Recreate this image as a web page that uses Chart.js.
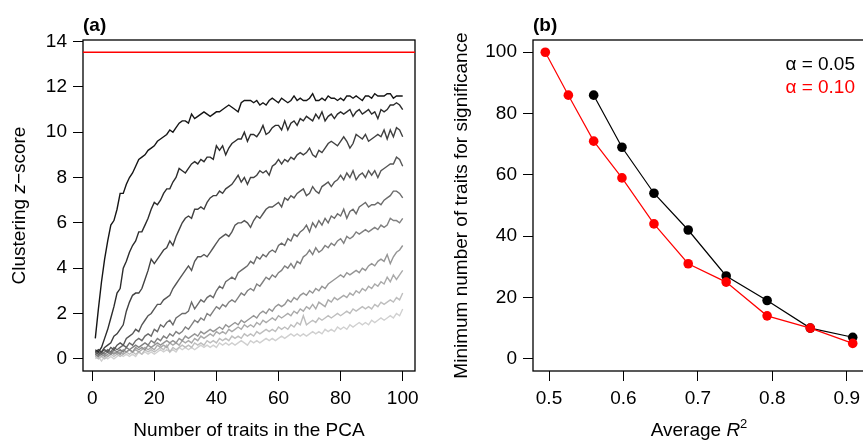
<!DOCTYPE html>
<html>
<head>
<meta charset="utf-8">
<script src="https://cdn.jsdelivr.net/npm/chart.js@4.4.1/dist/chart.umd.min.js"></script>
<style>
  body { margin: 0; background: #fff; overflow: hidden; }
  #wrapA { position: absolute; left: 0; top: 0; width: 430px; height: 445px; }
  #wrapB { position: absolute; left: 430px; top: 0; width: 440px; height: 445px; }
</style>
</head>
<body>
<div id="wrapA"><canvas id="chartA" width="430" height="445"></canvas></div>
<div id="wrapB"><canvas id="chartB" width="440" height="445"></canvas></div>
<script>
// panel (a): clustering z-score vs number of traits, one line per R^2 level
const nTraits = [1,2,3,4,5,6,7,8,9,10,11,12,13,14,15,16,17,18,19,20,21,22,23,24,25,26,27,28,29,30,31,32,33,34,35,36,37,38,39,40,41,42,43,44,45,46,47,48,49,50,51,52,53,54,55,56,57,58,59,60,61,62,63,64,65,66,67,68,69,70,71,72,73,74,75,76,77,78,79,80,81,82,83,84,85,86,87,88,89,90,91,92,93,94,95,96,97,98,99,100];

const z1 = [0.9,2.2,3.4,4.4,5.2,5.9,6.1,6.6,7.3,7.3,7.7,8.0,8.2,8.5,8.8,8.9,9.0,9.2,9.3,9.4,9.6,9.7,9.8,9.9,10.1,10.0,10.2,10.4,10.5,10.5,10.4,10.8,10.6,10.7,10.8,10.9,10.8,10.7,10.8,10.9,10.9,11.0,11.1,11.2,11.1,11.0,10.9,11.3,11.4,11.4,11.4,11.3,11.4,11.2,11.3,11.2,11.4,11.5,11.4,11.3,11.5,11.4,11.3,11.4,11.6,11.4,11.5,11.4,11.4,11.5,11.7,11.4,11.4,11.5,11.4,11.6,11.5,11.5,11.4,11.5,11.4,11.6,11.6,11.5,11.6,11.5,11.4,11.6,11.6,11.5,11.7,11.6,11.6,11.6,11.7,11.7,11.5,11.6,11.6,11.6];
const z2 = [0.4,0.3,0.5,0.9,1.3,1.8,2.3,2.9,3.1,4.0,4.3,4.7,5.0,5.2,5.6,5.6,5.9,6.2,6.6,6.9,6.8,7.0,7.3,7.5,7.5,7.8,8.0,8.4,8.3,8.2,8.4,8.6,8.7,8.6,8.8,8.7,8.9,8.9,8.8,9.4,9.2,9.4,9.0,9.3,9.5,9.6,9.7,9.7,10.0,9.6,9.9,9.9,9.8,10.0,10.3,9.9,10.0,10.2,10.3,10.3,10.1,10.5,10.1,10.4,10.5,10.3,10.6,10.5,10.7,10.6,10.5,10.8,10.6,10.9,10.5,10.7,10.8,10.6,10.8,10.9,10.8,10.9,11.0,10.7,10.9,11.0,10.8,10.9,11.0,10.8,10.9,10.6,11.0,10.9,11.0,11.2,11.2,11.3,11.2,11.0];
const z3 = [0.3,0.4,0.3,0.5,0.6,0.7,1.0,1.1,1.3,1.5,2.1,2.5,2.8,2.9,2.9,3.1,3.5,3.9,4.4,4.2,4.4,4.6,4.8,4.9,5.2,5.0,5.4,5.7,6.0,6.2,6.3,6.2,6.6,6.6,6.7,6.6,6.9,7.1,7.2,7.2,7.4,7.3,7.5,7.6,7.7,7.9,8.1,7.8,8.0,7.7,8.0,8.0,8.1,8.3,8.2,8.3,8.1,8.5,8.6,8.8,8.6,8.8,8.7,8.9,8.8,9.0,9.1,9.0,9.1,9.3,9.0,8.9,9.2,9.1,9.3,9.5,9.6,9.5,9.4,9.6,9.8,9.6,9.3,9.5,9.9,9.8,9.7,9.9,9.6,9.7,9.8,9.9,9.8,10.1,9.7,10.1,9.8,10.2,10.1,9.8];
const z4 = [0.3,0.2,0.3,0.4,0.3,0.5,0.4,0.6,0.7,0.6,0.9,1.0,1.1,1.3,1.2,1.5,1.7,1.9,2.0,2.2,2.4,2.4,2.6,2.7,2.8,3.1,3.3,3.5,3.7,3.9,4.1,3.9,4.3,4.5,4.5,4.6,4.5,4.7,4.9,5.1,5.3,5.4,5.5,5.4,5.6,5.9,6.0,6.0,6.1,6.0,5.8,6.1,6.3,6.2,6.4,6.6,6.7,6.7,6.8,6.9,6.7,7.1,7.0,7.2,7.1,7.3,7.4,7.5,7.2,7.3,7.6,7.4,7.3,7.6,7.7,7.8,7.6,7.8,7.9,8.1,7.9,8.2,8.0,8.3,7.9,8.1,8.2,8.0,8.3,8.1,8.3,8.0,8.3,8.4,8.5,8.6,8.6,8.9,8.8,8.5];
const z5 = [0.2,0.3,0.2,0.3,0.4,0.3,0.5,0.4,0.5,0.6,0.5,0.7,0.6,0.8,0.9,0.8,1.0,1.1,1.0,1.3,1.2,1.5,1.4,1.6,1.7,1.5,1.8,1.9,2.0,2.0,2.1,2.5,2.2,2.4,2.6,2.5,2.7,2.8,2.7,3.0,3.2,3.1,3.4,3.5,3.6,3.5,3.8,3.9,4.0,4.1,4.3,4.2,4.5,4.4,4.6,4.5,4.7,4.8,4.7,5.0,5.1,5.0,5.3,5.2,5.5,5.4,5.6,5.7,5.9,5.6,6.0,5.8,6.1,5.9,6.2,6.0,6.3,6.2,6.4,6.3,6.6,6.2,6.5,6.6,6.4,6.7,6.8,6.9,6.7,6.8,6.8,6.9,6.8,7.0,7.1,7.2,7.4,7.4,7.3,7.1];
const z6 = [0.2,0.1,0.3,0.2,0.3,0.2,0.4,0.3,0.4,0.3,0.5,0.4,0.5,0.6,0.5,0.6,0.7,0.6,0.8,0.7,0.9,0.8,1.0,0.9,1.1,1.0,1.2,1.1,1.2,1.4,1.3,1.5,1.7,1.6,1.8,1.7,2.0,1.9,2.1,2.3,2.2,2.4,2.3,2.5,2.6,2.5,2.7,2.9,2.8,3.0,3.1,3.0,3.3,3.2,3.4,3.6,3.5,3.7,3.6,3.8,3.9,4.1,4.0,4.2,4.0,4.3,4.2,4.5,4.6,4.8,4.6,4.9,4.7,4.8,5.0,4.9,5.1,5.0,5.2,5.3,5.1,5.4,5.3,5.4,5.6,5.5,5.6,5.7,5.6,5.7,5.8,5.7,5.9,5.8,5.9,6.2,6.1,6.1,6.0,6.2];
const z7 = [0.2,0.1,0.2,0.1,0.2,0.3,0.2,0.3,0.2,0.4,0.3,0.4,0.3,0.5,0.4,0.5,0.4,0.6,0.5,0.6,0.7,0.6,0.7,0.8,0.7,0.8,0.7,0.9,0.8,1.0,0.9,1.0,1.1,1.0,1.2,1.1,1.2,1.3,1.2,1.3,1.4,1.3,1.5,1.4,1.5,1.6,1.5,1.7,1.6,1.7,1.8,1.9,1.8,2.0,2.1,2.0,2.2,2.1,2.3,2.4,2.3,2.4,2.6,2.5,2.7,2.6,2.8,2.9,2.8,3.0,2.9,3.1,3.0,3.2,3.1,3.3,3.4,3.5,3.6,3.7,3.6,3.8,3.7,3.8,3.9,3.8,4.0,3.9,4.1,4.2,4.1,4.3,4.4,4.3,4.6,4.2,4.5,4.7,4.8,5.0];
const z8 = [0.1,0.2,0.1,0.2,0.1,0.2,0.3,0.2,0.3,0.2,0.3,0.4,0.3,0.4,0.3,0.4,0.5,0.4,0.5,0.4,0.6,0.5,0.6,0.5,0.7,0.6,0.7,0.6,0.8,0.7,0.8,0.7,0.9,0.8,1.0,0.9,1.0,1.1,1.0,1.2,1.1,1.2,1.1,1.3,1.2,1.3,1.4,1.3,1.5,1.4,1.5,1.4,1.6,1.5,1.7,1.6,1.7,1.8,1.7,1.9,1.8,1.9,2.0,1.9,2.1,2.0,2.2,2.1,2.3,2.2,2.4,2.2,2.5,2.4,2.3,2.6,2.5,2.7,2.6,2.7,2.8,2.7,2.9,2.8,3.0,2.9,3.1,3.0,3.2,3.1,3.3,3.2,3.4,3.3,3.6,3.4,3.7,3.5,3.7,3.9];
const z9 = [0.1,0.0,0.1,0.0,0.1,0.2,0.1,0.2,0.1,0.2,0.3,0.2,0.3,0.2,0.3,0.2,0.4,0.3,0.4,0.3,0.4,0.5,0.4,0.6,0.3,0.5,0.4,0.5,0.6,0.5,0.6,0.5,0.7,0.6,0.7,0.6,0.8,0.7,0.8,0.7,0.9,0.8,0.9,0.8,1.0,0.9,1.0,0.9,1.1,1.0,1.1,1.0,1.2,1.1,1.2,1.3,1.2,1.3,1.2,1.4,1.3,1.4,1.3,1.5,1.4,1.6,1.5,1.9,1.5,1.6,1.7,1.6,1.8,1.7,1.8,1.9,1.8,1.9,2.0,1.9,2.0,2.1,2.0,2.2,2.1,2.2,2.3,2.2,2.3,2.2,2.4,2.3,2.5,2.4,2.5,2.6,2.5,2.7,2.6,2.9];
const z10 = [0.0,0.1,-0.1,0.1,0.0,0.1,0.0,0.1,0.2,0.1,0.2,0.1,0.2,0.1,0.3,0.2,0.3,0.2,0.3,0.2,0.3,0.4,0.3,0.4,0.3,0.4,0.3,0.5,0.4,0.5,0.4,0.5,0.4,0.5,0.6,0.5,0.6,0.5,0.6,0.5,0.7,0.6,0.7,0.6,0.7,0.6,0.7,0.8,0.7,0.6,0.8,0.7,0.8,0.7,0.8,0.9,0.8,0.9,0.8,0.9,1.0,0.9,1.0,1.1,1.0,1.1,1.0,1.1,1.0,1.1,1.2,1.1,1.2,1.1,1.3,1.2,1.3,1.2,1.4,1.3,1.4,1.3,1.5,1.4,1.5,1.6,1.5,1.6,1.5,1.7,1.6,1.7,1.8,1.7,1.8,1.9,1.8,2.0,1.9,2.2];

const zSeries = [z1, z2, z3, z4, z5, z6, z7, z8, z9, z10];
const greys = ['#151515', '#2c2c2c', '#414141', '#565656', '#6b6b6b', '#808080', '#959595', '#aaaaaa', '#bebebe', '#d0d0d0'];
const thresholdZ = 13.53;

const xTicksA = [0, 20, 40, 60, 80, 100];
const yTicksA = [0, 2, 4, 6, 8, 10, 12, 14];

// panel (b): minimum number of traits needed vs average R^2
const r2Alpha05 = [0.560, 0.598, 0.641, 0.687, 0.738, 0.793, 0.851, 0.908];
const minTraitsAlpha05 = [86, 69, 54, 42, 27, 19, 10, 7];
const r2Alpha10 = [0.495, 0.526, 0.560, 0.598, 0.641, 0.687, 0.738, 0.793, 0.851, 0.908];
const minTraitsAlpha10 = [100, 86, 71, 59, 44, 31, 25, 14, 10, 5];

const xTicksB = [0.5, 0.6, 0.7, 0.8, 0.9];
const yTicksB = [0, 20, 40, 60, 80, 100];

const FONT = '"Liberation Sans", Arial, sans-serif';
const FS = 19;

function setTicks(values) {
  return function (scale) { scale.ticks = values.map(v => ({ value: v })); };
}

function axisStyle(ticks, extra) {
  return Object.assign({
    type: 'linear',
    afterBuildTicks: setTicks(ticks),
    border: { display: false },
    grid: { drawOnChartArea: false, drawTicks: true, tickLength: 10, color: '#000', lineWidth: 1 },
    ticks: { color: '#000', font: { family: FONT, size: FS }, padding: 6, maxRotation: 0, autoSkip: false }
  }, extra);
}

// draws mixed-style text (italic bits, superscripts) centred on a point
function drawRich(ctx, parts, cx, cy, rotate) {
  ctx.save();
  ctx.translate(cx, cy);
  if (rotate) ctx.rotate(-Math.PI / 2);
  ctx.textBaseline = 'middle';
  ctx.textAlign = 'left';
  let total = 0;
  parts.forEach(p => {
    ctx.font = (p.italic ? 'italic ' : '') + (p.sup ? 13 : FS) + 'px ' + FONT;
    p.w = ctx.measureText(p.t).width;
    total += p.w;
  });
  let x = -total / 2;
  parts.forEach(p => {
    ctx.font = (p.italic ? 'italic ' : '') + (p.sup ? 13 : FS) + 'px ' + FONT;
    ctx.fillStyle = '#000';
    ctx.fillText(p.t, x, p.sup ? -7 : 0);
    x += p.w;
  });
  ctx.restore();
}

const framePlugin = {
  id: 'frame',
  afterDraw(chart, args, opts) {
    const { ctx, chartArea: a } = chart;
    ctx.save();
    ctx.strokeStyle = '#000';
    ctx.lineWidth = 1.3;
    ctx.strokeRect(a.left, a.top, a.right - a.left, a.bottom - a.top);
    ctx.font = 'bold ' + FS + 'px ' + FONT;
    ctx.fillStyle = '#000';
    ctx.textBaseline = 'middle';
    ctx.textAlign = 'left';
    ctx.fillText(opts.panel, a.left, 26);
    ctx.restore();
    drawRich(ctx, opts.xTitle, (a.left + a.right) / 2, 431, false);
    drawRich(ctx, opts.yTitle, opts.yTitleX, (a.top + a.bottom) / 2, true);
    if (opts.after) opts.after(chart);
  }
};

const lineDatasets = zSeries.map((ys, i) => ({
  data: nTraits.map((x, j) => ({ x: x, y: ys[j] })),
  borderColor: greys[i],
  borderWidth: 1.4,
  pointRadius: 0,
  tension: 0
}));

new Chart(document.getElementById('chartA'), {
  type: 'line',
  data: { datasets: lineDatasets },
  plugins: [framePlugin],
  options: {
    responsive: false,
    animation: false,
    devicePixelRatio: 1,
    layout: { padding: { left: 0, right: 15, top: 40, bottom: 0 } },
    plugins: {
      legend: { display: false },
      tooltip: { enabled: false },
      frame: {
        panel: '(a)',
        xTitle: [{ t: 'Number of traits in the PCA' }],
        yTitle: [{ t: 'Clustering ' }, { t: 'z', italic: true }, { t: '\u2212score' }],
        yTitleX: 20,
        after(chart) {
          const { ctx, chartArea: a, scales } = chart;
          const y = scales.y.getPixelForValue(thresholdZ);
          ctx.save();
          ctx.strokeStyle = '#ff0000';
          ctx.lineWidth = 1.4;
          ctx.beginPath();
          ctx.moveTo(a.left, y);
          ctx.lineTo(a.right, y);
          ctx.stroke();
          ctx.restore();
        }
      }
    },
    scales: {
      x: axisStyle(xTicksA, { min: -2.96, max: 103.96, afterFit(s) { s.height = 74; } }),
      y: axisStyle(yTicksA, { min: -0.54, max: 14.07, afterFit(s) { s.width = 83; } })
    }
  }
});

new Chart(document.getElementById('chartB'), {
  type: 'line',
  data: {
    datasets: [
      {
        label: '\u03b1 = 0.10',
        data: r2Alpha10.map((x, i) => ({ x: x, y: minTraitsAlpha10[i] })),
        borderColor: '#ff0000', backgroundColor: '#ff0000',
        borderWidth: 1.2, pointRadius: 4.8, pointBorderWidth: 0, tension: 0
      },
      {
        label: '\u03b1 = 0.05',
        data: r2Alpha05.map((x, i) => ({ x: x, y: minTraitsAlpha05[i] })),
        borderColor: '#000', backgroundColor: '#000',
        borderWidth: 1.2, pointRadius: 4.8, pointBorderWidth: 0, tension: 0
      }
    ]
  },
  plugins: [framePlugin],
  options: {
    responsive: false,
    animation: false,
    devicePixelRatio: 1,
    layout: { padding: { left: 0, right: 5, top: 40, bottom: 0 } },
    plugins: {
      legend: { display: false },
      tooltip: { enabled: false },
      frame: {
        panel: '(b)',
        xTitle: [{ t: 'Average ' }, { t: 'R', italic: true }, { t: '2', sup: true }],
        yTitle: [{ t: 'Minimum number of traits for significance' }],
        yTitleX: 32,
        after(chart) {
          const ctx = chart.ctx;
          ctx.save();
          ctx.font = FS + 'px ' + FONT;
          ctx.textAlign = 'right';
          ctx.textBaseline = 'middle';
          ctx.fillStyle = '#000';
          ctx.fillText('\u03b1 = 0.05', 425, 65);
          ctx.fillStyle = '#ff0000';
          ctx.fillText('\u03b1 = 0.10', 425, 88);
          ctx.restore();
        }
      }
    },
    scales: {
      x: axisStyle(xTicksB, { min: 0.4785, max: 0.9245, afterFit(s) { s.height = 74; } }),
      y: axisStyle(yTicksB, { min: -4, max: 104, afterFit(s) { s.width = 103; } })
    }
  }
});
</script>
</body>
</html>
